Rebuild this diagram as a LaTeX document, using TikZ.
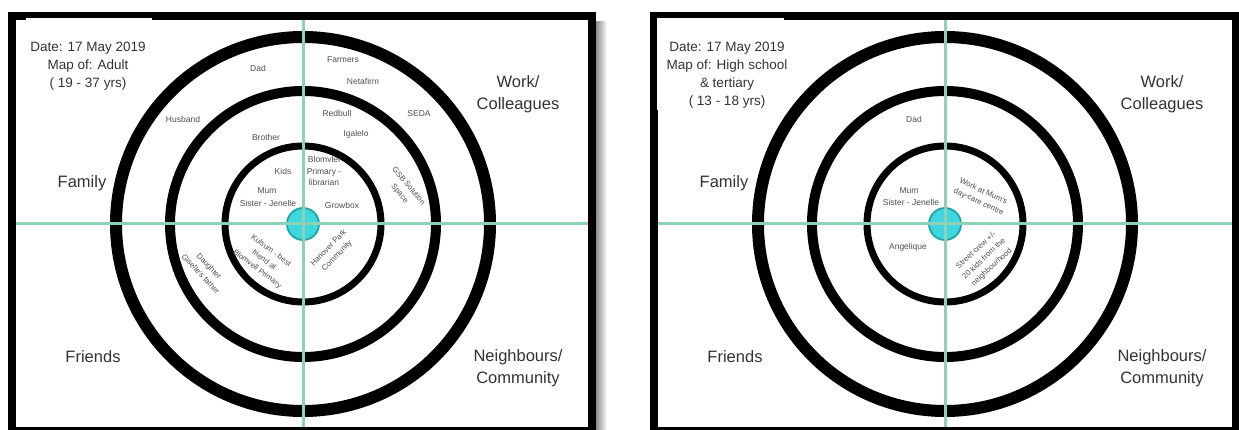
\documentclass[tikz,border=0pt]{standalone}
\usepackage{fontspec}
\setmainfont{Liberation Sans}
\definecolor{mint}{RGB}{140,210,180}
\definecolor{hubfill}{RGB}{64,214,224}
\definecolor{hubedge}{RGB}{30,165,165}
\definecolor{bigtxt}{RGB}{51,51,51}
\definecolor{smalltxt}{RGB}{80,80,80}
\begin{document}
\begin{tikzpicture}[x=1pt,y=-1pt,
  frame/.style={line width=8pt},
  ringA/.style={line width=7pt},
  ringB/.style={line width=10pt},
  ringC/.style={line width=12pt},
  axis/.style={draw=mint,line width=3pt},
  hub/.style={circle,fill=hubfill,draw=hubedge,line width=1.8pt,minimum size=32pt,inner sep=0pt},
  datebox/.style={align=center,text=bigtxt,font=\fontsize{13.5}{18}\selectfont,inner sep=0pt},
  zone/.style={align=center,text=bigtxt,font=\fontsize{16.5}{22}\selectfont,inner sep=0pt},
  lbl/.style={align=center,text=smalltxt,font=\fontsize{8.5}{11.5}\selectfont,inner sep=0pt},
  rlbl/.style={align=center,text=smalltxt,font=\fontsize{7.8}{11.5}\selectfont,inner sep=0pt}
]
\useasboundingbox (0,0) rectangle (1239,430);
\fill[white] (0,0) rectangle (1239,430);

% ---------------- left panel ----------------
\fill[left color=black!45,right color=white] (596,22) rectangle (607,430);
\draw[frame] (12,16.5) rectangle (592,431);
\fill[white] (26,18) rectangle (152,100);
\draw[ringC] (303,224) circle[radius=187];
\draw[ringB] (303,224) circle[radius=133];
\draw[ringA] (303,224) circle[radius=78];
\node[hub] (hubL) at (303,224) {};
\coordinate (Ltop) at (303,20.5);
\coordinate (Lbot) at (303,427);
\coordinate (Lleft) at (16,224);
\coordinate (Lright) at (588,224);
\draw[axis] (Ltop) -- (Lbot);
\draw[axis] (Lleft) -- (Lright);

\node[datebox] (dateL) at (88,66) {Date: 17 May 2019\\Map of: Adult\\( 19 - 37 yrs)};
\node[zone] (famL) at (82,183) {Family};
\node[zone] (workL) at (518,94) {Work/\\Colleagues};
\node[zone] (friL) at (93,357) {Friends};
\node[zone] (neiL) at (518,368) {Neighbours/\\Community};

\node[lbl] (dad) at (258,68) {Dad};
\node[lbl] (husband) at (183,119) {Husband};
\node[lbl] (brother) at (266,137) {Brother};
\node[lbl] (kids) at (283,171) {Kids};
\node[lbl] (mumL) at (267,191) {Mum};
\node[lbl] (sisL) at (268,203) {Sister - Jenelle};
\node[lbl] (blom) at (324,171) {Blomvlei\\Primary -\\librarian};
\node[lbl] (grow) at (342,205) {Growbox};
\node[lbl] (farm) at (343,60) {Farmers};
\node[lbl] (neta) at (363,81) {Netafirm};
\node[lbl] (red) at (337,113) {Redbull};
\node[lbl] (igal) at (356,134) {Igalelo};
\node[lbl] (seda) at (419,114) {SEDA};
\node[rlbl,rotate=-50] (gsb) at (404,190) {GSB Solution\\Space};
\node[rlbl,rotate=-37] (kul) at (264,260) {Kulsum - best\\friend at\\Blomvell Primary};
\node[rlbl,rotate=-47] (dau) at (205,270) {Daughter\\Giselle's father};
\node[rlbl,rotate=46] (han) at (333,252) {Hanover Park\\Community};

% ---------------- right panel ----------------
\draw[frame] (654,16.5) rectangle (1235.5,431);
\fill[white] (657,18) rectangle (784,110);
\draw[ringC] (945,224) circle[radius=187];
\draw[ringB] (945,224) circle[radius=133];
\draw[ringA] (945,224) circle[radius=78];
\node[hub] (hubR) at (945,224) {};
\coordinate (Rtop) at (945,20.5);
\coordinate (Rbot) at (945,427);
\coordinate (Rleft) at (658,224);
\coordinate (Rright) at (1231.5,224);
\draw[axis] (Rtop) -- (Rbot);
\draw[axis] (Rleft) -- (Rright);

\node[datebox] (dateR) at (727,75) {Date: 17 May 2019\\Map of: High school\\\& tertiary\\( 13 - 18 yrs)};
\node[zone] (famR) at (724,183) {Family};
\node[zone] (workR) at (1162,94) {Work/\\Colleagues};
\node[zone] (friR) at (735,357) {Friends};
\node[zone] (neiR) at (1162,368) {Neighbours/\\Community};

\node[lbl] (dadR) at (914,119) {Dad};
\node[lbl] (mumR) at (909,191) {Mum};
\node[lbl] (sisR) at (911,202) {Sister - Jenelle};
\node[lbl] (ang) at (908,247) {Angelique};
\node[rlbl,rotate=-25] (daycare) at (981,197) {Work at Mum's\\day-care centre};
\node[rlbl,rotate=43] (street) at (984,259) {Street crew +/-\\20 kids from the\\neighbourhood};
\end{tikzpicture}
\end{document}
